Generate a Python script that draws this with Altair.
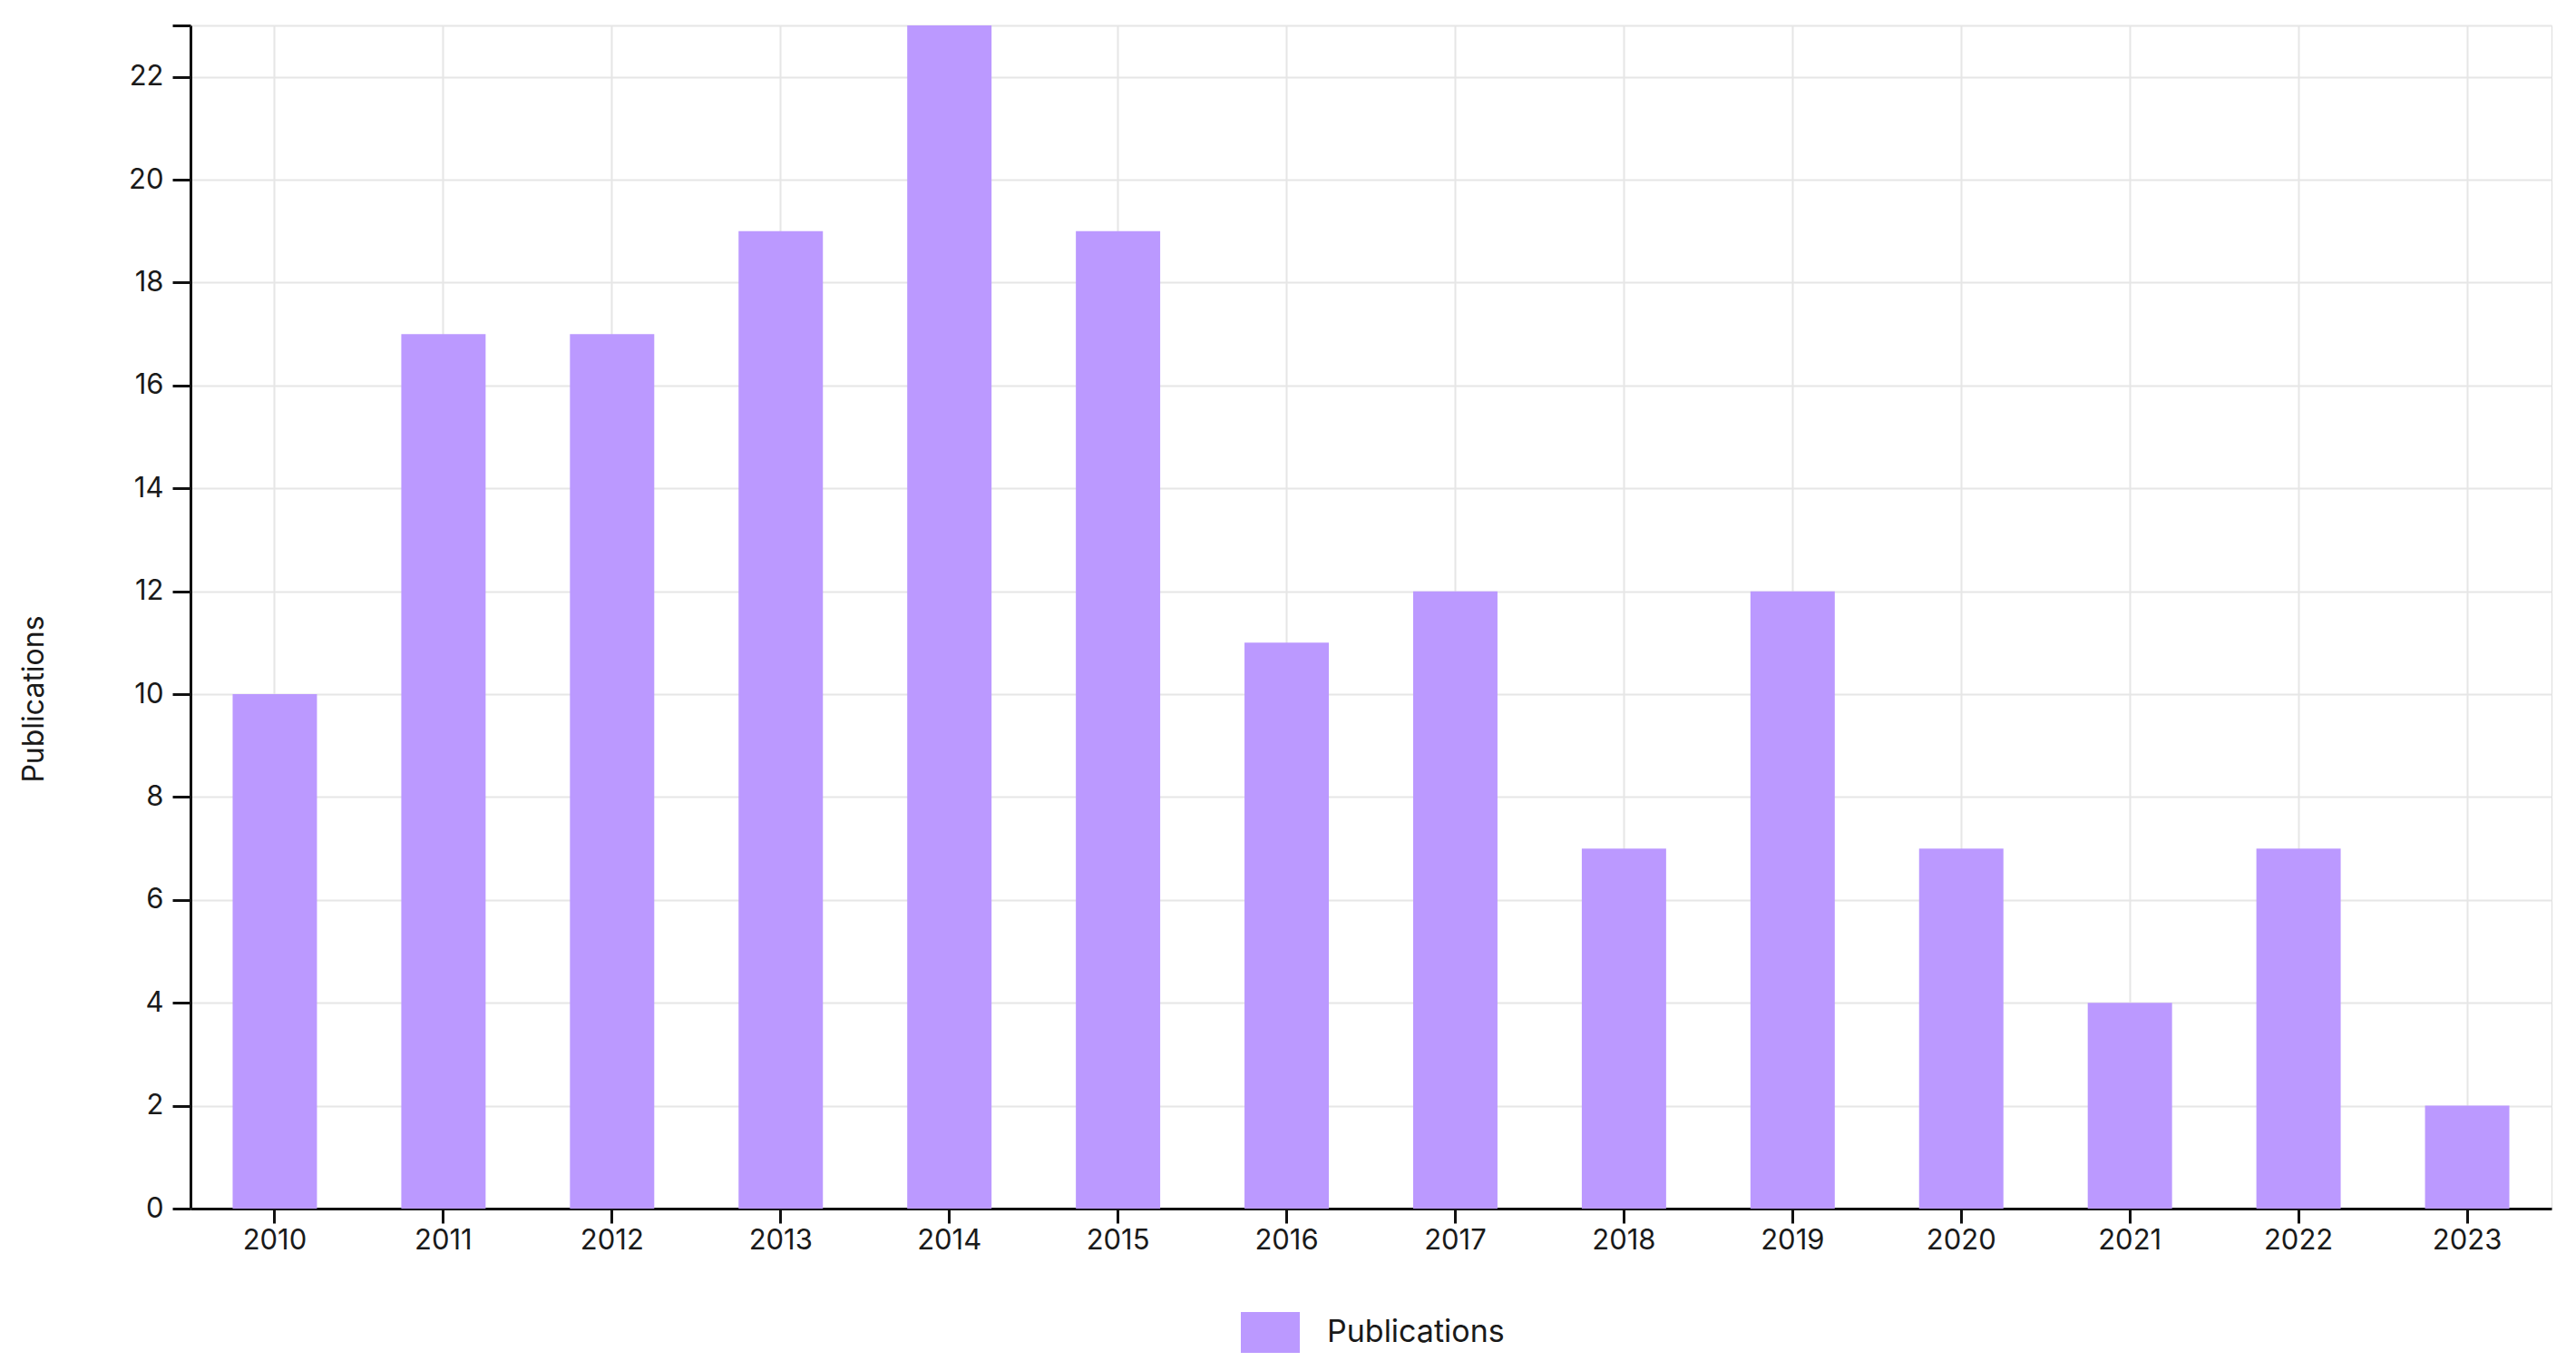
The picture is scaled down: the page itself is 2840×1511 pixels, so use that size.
import altair as alt
import pandas as pd

years = ["2010", "2011", "2012", "2013", "2014", "2015", "2016",
         "2017", "2018", "2019", "2020", "2021", "2022", "2023"]
publications = [10, 17, 17, 19, 23, 19, 11, 12, 7, 12, 7, 4, 7, 2]
series = ["Publications"] * len(years)
y_ticks = [0, 2, 4, 6, 8, 10, 12, 14, 16, 18, 20, 22, 23]

df = pd.DataFrame({"Year": years, "Publications": publications, "Series": series})

FONT = "Inter"
TXT = "#1a1a1a"

bars = alt.Chart(df).mark_bar(color="#bb99ff").encode(
    x=alt.X("Year:N", sort=years,
            scale=alt.Scale(paddingInner=0.5, paddingOuter=0.25),
            axis=alt.Axis(title=None, labelAngle=0, labelFontSize=31, labelFont=FONT,
                          labelColor=TXT, labelPadding=4, tickSize=16, tickWidth=3,
                          tickColor="#111", domainColor="#111", domainWidth=3,
                          grid=True, gridColor="#e6e6e6", gridWidth=2)),
    y=alt.Y("Publications:Q",
            scale=alt.Scale(domain=[0, 23], nice=False, zero=True),
            axis=alt.Axis(title="Publications", values=y_ticks,
                          labelExpr="datum.value == 23 ? '' : datum.label",
                          labelFontSize=31, labelFont=FONT, labelColor=TXT,
                          labelPadding=10, tickSize=20, tickWidth=3, tickColor="#111",
                          domainColor="#111", domainWidth=3,
                          grid=True, gridColor="#e6e6e6", gridWidth=2,
                          titleFont=FONT, titleFontSize=32, titleFontWeight="normal",
                          titleColor=TXT, titleY=742, titleX=-156, titleAngle=-90,
                          titleAlign="center", titleBaseline="bottom")),
    fill=alt.Fill("Series:N",
                  scale=alt.Scale(domain=["Publications"], range=["#bb99ff"]),
                  legend=alt.Legend(title=None, orient="none", legendX=1158, legendY=1408,
                                    symbolType="M-1,-0.69L1,-0.69L1,0.69L-1,0.69Z",
                                    symbolSize=4225, symbolStrokeWidth=0,
                                    labelFont=FONT, labelFontSize=34, labelColor=TXT,
                                    labelOffset=30, labelLimit=0, padding=0)),
)

chart = bars.properties(
    width=2603, height=1304,
    padding={"left": 202, "top": 20, "right": 19, "bottom": 170},
    autosize=alt.AutoSizeParams(type="none"),
).configure_view(stroke="#111", strokeWidth=3).configure(background="white")

chart.save("out.html", embed_options={"renderer": "svg", "actions": False})
